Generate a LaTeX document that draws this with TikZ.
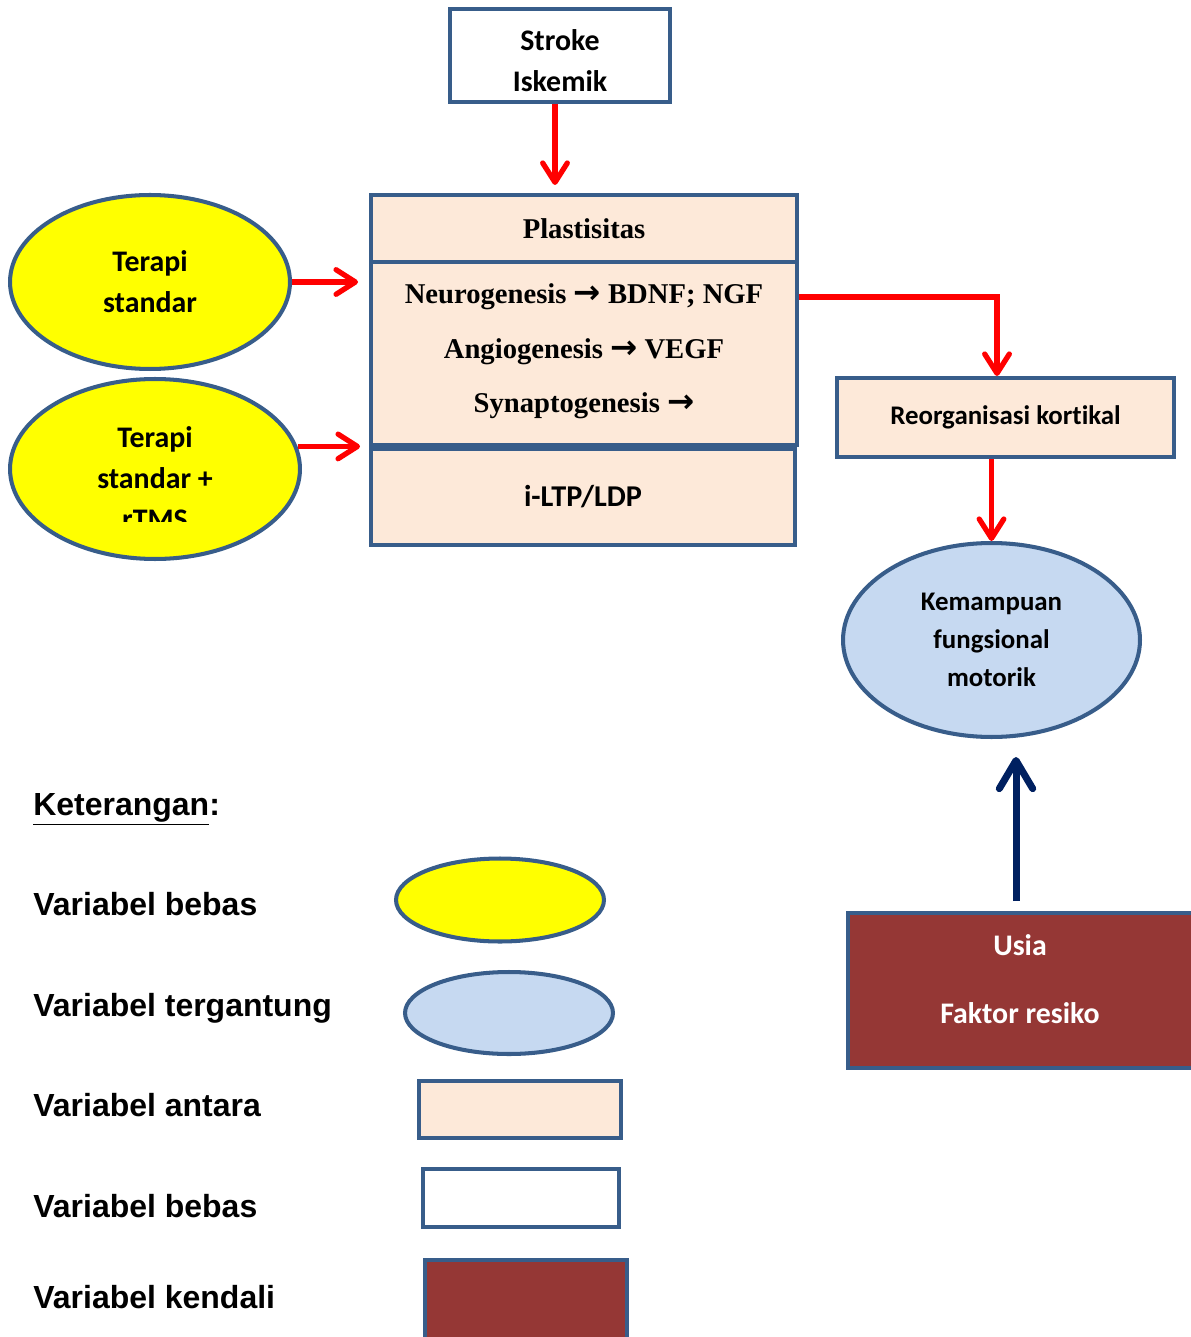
\documentclass[tikz,border=0pt]{standalone}
\usepackage{fontspec}
\usetikzlibrary{arrows.meta,shapes.geometric}
\newfontfamily\calibfont[Ligatures=NoCommon]{Carlito}
\newfontfamily\serifbold{Liberation Serif}
\newfontfamily\arrowfont{DejaVu Sans}
\newfontfamily\legendfont{Liberation Sans}
\newcommand{\genarrow}{{\arrowfont\bfseries\fontsize{18.5}{20}\selectfont →}}
\definecolor{boxline}{HTML}{385D8A}
\definecolor{peach}{HTML}{FDE9D9}
\definecolor{paleblue}{HTML}{C6D9F1}
\definecolor{brick}{HTML}{953735}
\definecolor{navy}{HTML}{002060}
\definecolor{linkred}{HTML}{FF0000}
\definecolor{oilyellow}{HTML}{FFFF00}

\begin{document}
\begin{tikzpicture}[
  x=0.02cm,
  y=-0.02cm,
  every node/.style={text=black},
  calib/.style={font=\calibfont\bfseries\fontsize{17}{23.2}\selectfont, align=center},
  calibsmall/.style={font=\calibfont\bfseries\fontsize{15.3}{21.5}\selectfont, align=center},
  serifb/.style={font=\serifbold\bfseries\fontsize{16.3}{20}\selectfont},
  legendtext/.style={font=\legendfont\bfseries\fontsize{18.2}{22}\selectfont,
                     anchor=base west, inner sep=0pt},
  block/.style={draw=boxline, line width=2.3pt, rectangle, inner sep=0pt},
  oval/.style={draw=boxline, line width=2.3pt, ellipse, inner sep=0pt},
  link/.style={linkred, line width=3pt,
               -{Straight Barb[length=11pt, width=14pt, line cap=round, line join=round]}},
  control/.style={navy, line width=4pt,
                  -{Straight Barb[length=16pt, width=19pt, line cap=round, line join=round]}}
]
  % ---- page ------------------------------------------------------------
  \useasboundingbox (0,0) rectangle (1190,1337);

  % ---- stroke and the plasticity block ---------------------------------
  \node[block, fill=white, minimum width=4.4cm, minimum height=1.86cm]
    (stroke) at (560,55.5) {};
  \node[calib] (stroketext) at (560,61) {Stroke\\Iskemik};
  \node[block, serifb, fill=peach, minimum width=8.52cm, minimum height=1.34cm]
    (plast) at (584,228.5) {Plastisitas};
  \node[block, fill=peach, minimum width=8.52cm, minimum height=3.66cm]
    (gen) at (584,353.5) {};
  \node[serifb] (neuro) at (584,297) {Neurogenesis \genarrow\ BDNF; NGF};
  \node[serifb] (angio) at (584,352) {Angiogenesis \genarrow\ VEGF};
  \node[serifb] (synap) at (584,406) {Synaptogenesis \genarrow};
  \node[block, fill=peach, minimum width=8.48cm, minimum height=1.92cm,
        font=\calibfont\bfseries\fontsize{17.2}{20}\selectfont]
    (ltp) at (583,497) {i-LTP/LDP};

  % ---- therapies -------------------------------------------------------
  \node[oval, calib, fill=oilyellow, minimum width=5.6cm, minimum height=3.48cm]
    (ts) at (150,282) {Terapi\\standar};
  \node[oval, fill=oilyellow, minimum width=5.8cm, minimum height=3.6cm]
    (tsr) at (155,469) {};
  \begin{scope}
    \clip (0,400) rectangle (320,521);
    \node[calib] (tsrtext) at (155,478) {Terapi\\standar +\\rTMS};
  \end{scope}

  % ---- outcome side ----------------------------------------------------
  \node[block, calibsmall, fill=peach, minimum width=6.74cm, minimum height=1.58cm]
    (reorg) at (1005.5,417.5) {Reorganisasi kortikal};
  \node[oval, calibsmall, fill=paleblue, minimum width=5.94cm, minimum height=3.88cm]
    (kem) at (991.5,640) {Kemampuan\\fungsional\\motorik};
  \node[block, fill=brick, minimum width=6.94cm, minimum height=3.1cm]
    (usia) at (1021.5,990.5) {};
  \node[calib, text=white] (usiatext) at (1020,979) {Usia\\[0.54cm]Faktor resiko};

  % ---- connectors ------------------------------------------------------
  \draw[link, shorten >=0.16cm] ([xshift=-0.1cm]stroke.south)
    -- ([xshift=-0.1cm]stroke.south |- plast.north);
  \draw[link, shorten >=0.22cm] (ts.east) -- (ts.east -| gen.west);
  \draw[link, shorten >=0.18cm] (tsr.9) -- (tsr.9 -| ltp.west);
  \draw[link] (gen.east |- neuro) -| ([xshift=-0.17cm]reorg.north);
  \draw[link] (reorg.south -| kem.north) -- (kem.north);
  \draw[control, shorten <=0.2cm, shorten >=0.36cm] ([xshift=-0.11cm]usia.north)
    -- ([xshift=-0.11cm]usia.north |- kem.south);

  % ---- legend ----------------------------------------------------------
  \node[legendtext] (ket) at (33,815) {\underline{Keterangan}:};
  \node[legendtext] (lbebas) at (33,915) {Variabel bebas};
  \node[legendtext] (ltergantung) at (33,1016) {Variabel tergantung};
  \node[legendtext] (lantara) at (33,1116) {Variabel antara};
  \node[legendtext] (lbebasdua) at (33,1217) {Variabel bebas};
  \node[legendtext] (lkendali) at (33,1308) {Variabel kendali};

  \node[oval, fill=oilyellow, minimum width=4.16cm, minimum height=1.66cm]
    (kbebas) at (500,900) {};
  \node[oval, fill=paleblue, minimum width=4.16cm, minimum height=1.64cm]
    (ktergantung) at (509,1013) {};
  \node[block, fill=peach, minimum width=4.04cm, minimum height=1.14cm]
    (kantara) at (520,1109.5) {};
  \node[block, fill=white, minimum width=3.92cm, minimum height=1.16cm]
    (kbebasdua) at (521,1198) {};
  \node[block, fill=brick, minimum width=4.04cm, minimum height=1.8cm]
    (kkendali) at (526,1305) {};

\end{tikzpicture}
\end{document}
